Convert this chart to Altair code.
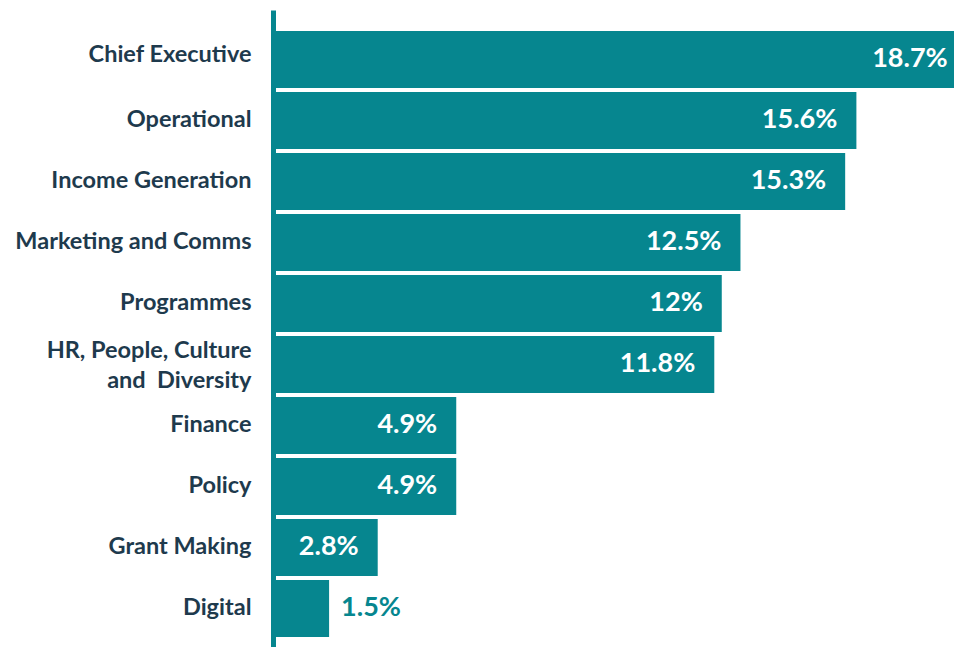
import altair as alt
import pandas as pd

categories = ["Chief Executive", "Operational", "Income Generation", "Marketing and Comms",
              "Programmes", "HR, People, Culture\nand\u00a0 Diversity", "Finance", "Policy",
              "Grant Making", "Digital"]
values = [18.7, 15.6, 15.3, 12.5, 12, 11.8, 4.9, 4.9, 2.8, 1.5]
labels = ["18.7%", "15.6%", "15.3%", "12.5%", "12%", "11.8%", "4.9%", "4.9%", "2.8%", "1.5%"]

TEAL = "#06868f"
NAVY = "#1e3a4d"
XMAX = 18.21

df = pd.DataFrame({"cat": categories, "value": values, "label": labels})

label_offset = {
    "condition": [
        {"test": "indexof(datum.label, '\\n') >= 0", "value": -13},
        {"test": "datum.label == 'Chief Executive'", "value": -4},
    ],
    "value": 0,
}

y = alt.Y("cat:N", sort=categories, title=None,
          scale=alt.Scale(paddingInner=0.0656, paddingOuter=0.254, align=0.677),
          axis=alt.Axis(domainColor=TEAL, domainWidth=5, ticks=False, grid=False,
                        labelPadding=22,
                        labelFont="Lato", labelFontWeight="bold", labelFontSize=23.5,
                        labelColor=NAVY, labelLimit=320, labelLineHeight=30,
                        labelOffset=label_offset,
                        labelExpr="split(datum.label, '\\n')"))
x = alt.X("value:Q", scale=alt.Scale(domain=[0, XMAX], nice=False), axis=None, title=None)

bars = alt.Chart(df).mark_bar(color=TEAL, clip=True).encode(y=y, x=x)

inside = alt.Chart(df).transform_filter("datum.value >= 2").transform_calculate(
    lx="min(datum.value, 18.55)"
).mark_text(align="right", baseline="middle", dx=-19, font="Lato", fontWeight="bold",
            fontSize=27, color="white").encode(
    y=alt.Y("cat:N", sort=categories),
    x=alt.X("lx:Q", axis=None, title=None),
    text="label:N")

outside = alt.Chart(df).transform_filter("datum.value < 2").mark_text(
    align="left", baseline="middle", dx=12, font="Lato", fontWeight="bold",
    fontSize=27, color=TEAL).encode(
    y=alt.Y("cat:N", sort=categories),
    x=alt.X("value:Q", axis=None, title=None),
    text="label:N")

chart = alt.layer(bars, inside, outside).properties(
    width=681, height=637,
    background="white",
    autosize=alt.AutoSizeParams(type="none"),
    padding={"left": 265, "top": 2, "right": 0, "bottom": 0},
).configure_view(strokeWidth=0, stroke=None).configure_axis(grid=False)

chart.save("out.html", embed_options={"renderer": "svg", "actions": False})
